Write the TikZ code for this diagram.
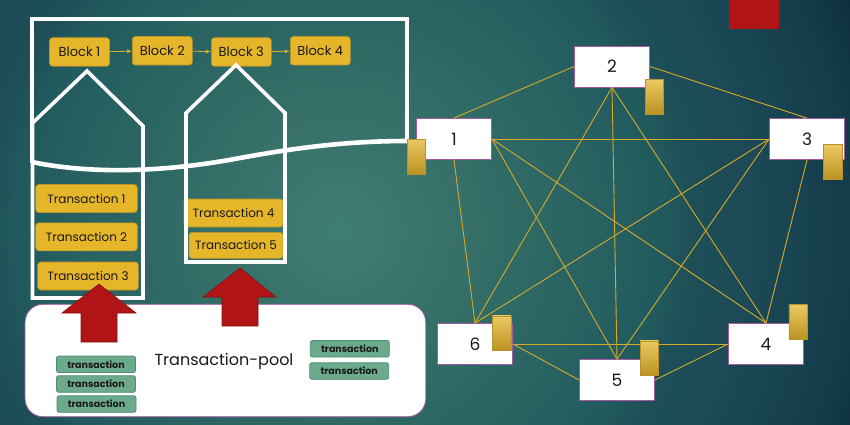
\documentclass[tikz,border=0pt]{standalone}
\usepackage{fontspec}
\setmainfont{Poppins}
\usetikzlibrary{arrows.meta}
\definecolor{bgA}{HTML}{3F7E73}
\definecolor{bgB}{HTML}{367068}
\definecolor{bgC}{HTML}{2A6462}
\definecolor{bgD}{HTML}{215A5D}
\definecolor{bgE}{HTML}{1E4F57}
\definecolor{bgF}{HTML}{1C4A56}
\definecolor{bgG}{HTML}{143C4A}
\definecolor{bgH}{HTML}{0D2F3E}
\definecolor{goldfill}{HTML}{E5B52A}
\definecolor{goldline}{HTML}{B8922A}
\definecolor{edgegold}{HTML}{D6AA2C}
\definecolor{nodeline}{HTML}{A45BA4}
\definecolor{redfill}{HTML}{B01414}
\definecolor{redline}{HTML}{8A1010}
\definecolor{greenfill}{HTML}{6BAA8C}
\definecolor{greenline}{HTML}{4E8C70}
\definecolor{tagtop}{HTML}{EBC862}
\definecolor{tagbot}{HTML}{BC9322}
\pgfdeclareradialshading{bgshade}{\pgfpoint{0bp}{0bp}}{color(0bp)=(bgA); color(5bp)=(bgB); color(9.875bp)=(bgC); color(13.5bp)=(bgD); color(14.65bp)=(bgE); color(17bp)=(bgF); color(21.25bp)=(bgG); color(23.3bp)=(bgH); color(50bp)=(bgH)}
\tikzset{
  blockbox/.style={draw=goldline, line width=0.6pt, fill=goldfill, rounded corners=3pt, minimum width=60pt, minimum height=28.5pt, inner sep=0pt, font=\fontsize{13}{15}\selectfont, text=black!90},
  txbox/.style={draw=goldline, line width=0.6pt, fill=goldfill, rounded corners=3pt, minimum height=28pt, inner sep=0pt, font=\fontsize{12}{14}\selectfont, text=black!90},
  greenbox/.style={draw=greenline, line width=0.7pt, fill=greenfill, rounded corners=2pt, minimum width=79pt, minimum height=16.5pt, inner sep=0pt, font=\bfseries\fontsize{9.5}{11}\selectfont, text=black!90},
  peer/.style={draw=nodeline, line width=0.8pt, fill=white, minimum width=75pt, minimum height=41pt, inner sep=0pt, font=\fontsize{17}{20}\selectfont, text=black!90},
  tag/.style={draw=goldline, line width=0.5pt, top color=tagtop, bottom color=tagbot, minimum width=18.5pt, minimum height=34.5pt, inner sep=0pt},
  meshline/.style={draw=edgegold, line width=0.9pt},
  chainarrow/.style={draw=edgegold, line width=0.8pt, -{Latex[length=5pt,width=4pt]}},
  whiteframe/.style={draw=white, line width=3.6pt, line join=miter},
  uparrow/.style={fill=redfill, draw=redline, line width=0.6pt}
}
\begin{document}
\begin{tikzpicture}[x=1pt, y=-1pt]
\useasboundingbox (0,0) rectangle (850,425);
\begin{scope}
  \clip (0,0) rectangle (850,425);
  \shade[shading=bgshade] (-260,-370) rectangle (940,830);
\end{scope}

% red square top right
\fill[redfill] (729,0) rectangle (779,28.7);

% transaction pool
\node[draw=nodeline, line width=0.8pt, fill=white, rounded corners=18pt, minimum width=400.7pt, minimum height=112.4pt, inner sep=0pt] (pool) at (225.4,360.5) {};
\node[font=\fontsize{16}{19}\selectfont, text=black!90] (pooltext) at (224,361) {Transaction-pool};
\node[greenbox] (g1) at (96,364.3) {transaction};
\node[greenbox] (g2) at (96,384) {transaction};
\node[greenbox] (g3) at (96.5,404) {transaction};
\node[greenbox] (g4) at (349.8,348.8) {transaction};
\node[greenbox] (g5) at (349.2,371) {transaction};

% blocks
\node[blockbox] (b1) at (79.5,52) {Block 1};
\node[blockbox] (b2) at (162.3,50.8) {Block 2};
\node[blockbox] (b3) at (241.3,52) {Block 3};
\node[blockbox] (b4) at (320.3,50.8) {Block 4};
\draw[chainarrow] (b1) -- (b2);
\draw[chainarrow] (b2) -- (b3);
\draw[chainarrow] (b3) -- (b4);

% transactions
\node[txbox, minimum width=101.6pt] (t1) at (86.5,198.5) {Transaction 1};
\node[txbox, minimum width=101.6pt] (t2) at (86.5,236.8) {Transaction 2};
\node[txbox, minimum width=100.6pt] (t3) at (88,276) {Transaction 3};
\node[txbox, minimum width=99pt] (t4) at (233.5,213) {Transaction 4};
\node[txbox, minimum width=94pt, minimum height=26pt] (t5) at (236,245.3) {Transaction 5};

% white frame and houses
\draw[whiteframe] (32,163) -- (32,19) -- (407,19) -- (407,141.5);
\draw[draw=white, line width=4.6pt] (32,162) .. controls (80,172) and (150,175) .. (240,158) .. controls (300,147) and (350,141) .. (408,141);
\draw[whiteframe] (87,71) -- (143,126) -- (143,298) -- (32.5,298) -- (32.5,123) -- cycle;
\draw[whiteframe] (236,65) -- (285,113) -- (285,262) -- (186,262) -- (186,113) -- cycle;

% red up arrows
\draw[uparrow] (99,284) -- (136,313) -- (117,313) -- (117,342) -- (81,342) -- (81,313) -- (62,313) -- cycle;
\draw[uparrow] (240,268) -- (276,297) -- (258,297) -- (258,326) -- (222,326) -- (222,297) -- (203,297) -- cycle;

% peers
\node[peer] (n1) at (454,139) {1};
\node[peer] (n2) at (612,66.5) {2};
\node[peer] (n3) at (807,139) {3};
\node[peer] (n4) at (766,344) {4};
\node[peer] (n5) at (617,380) {5};
\node[peer] (n6) at (475,344) {6};

\draw[meshline] (n1.north) -- (n2.west);
\draw[meshline] (n2.east) -- (n3.north);
\draw[meshline] (n1.east) -- (n3.west);
\draw[meshline] (n1.south) -- (n6.north);
\draw[meshline] (n1.east) -- (n5.north);
\draw[meshline] (n1.east) -- (n4.north);
\draw[meshline] (n2.south) -- (n6.north);
\draw[meshline] (n2.south) -- (n5.north);
\draw[meshline] (n2.south) -- (n4.north);
\draw[meshline] (n3.west) -- (n6.north);
\draw[meshline] (n3.west) -- (n5.north);
\draw[meshline] (n3.south) -- (n4.north);
\draw[meshline] (n6.east) -- (n4.west);
\draw[meshline] (n6.east) -- (n5.west);
\draw[meshline] (n5.east) -- (n4.west);

% ledger tags
\node[tag] (k1) at (416.3,156.5) {};
\node[tag] (k2) at (654.3,96.5) {};
\node[tag] (k3) at (832.8,161.5) {};
\node[tag] (k4) at (798.2,321.5) {};
\node[tag] (k5) at (649.3,358) {};
\node[tag] (k6) at (501.5,333) {};
\end{tikzpicture}
\end{document}
